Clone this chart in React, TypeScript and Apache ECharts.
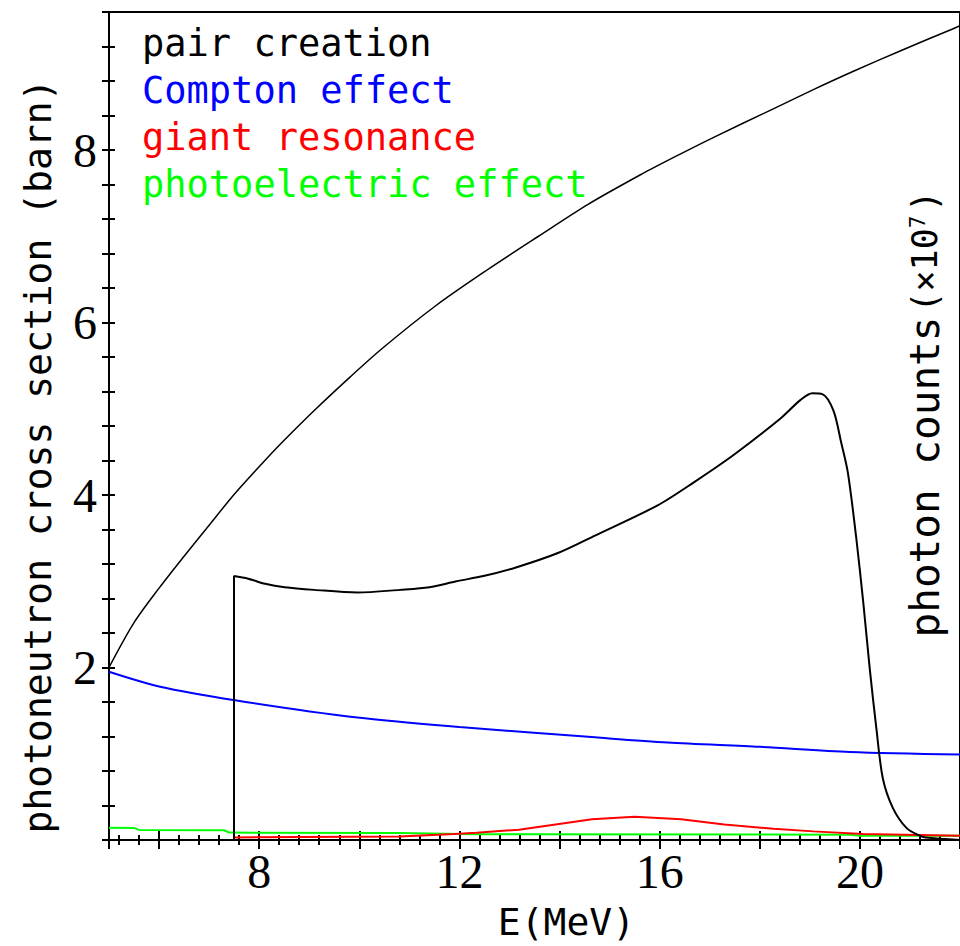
import React, { useEffect, useRef } from 'react';
import * as echarts from 'echarts';

const X_MIN = 5;
const X_MAX = 22;
const Y_MIN = 0;
const Y_MAX = 9.6;

const xLabelValues = [8, 12, 16, 20];
const yLabelValues = [2, 4, 6, 8];
const xMajorTicks = [6, 8, 10, 12, 14, 16, 18, 20, 22];

const legendNames = ['pair creation', 'Compton effect', 'giant resonance', 'photoelectric effect'];
const legendColors = ['#000000', '#0000ff', '#ff0000', '#00ff00'];

// E (MeV), cross section (barn)
const pairCreation: [number, number][] = [
  [5.0, 2.0], [5.5, 2.52], [6.0, 2.92], [6.5, 3.29], [7.0, 3.65],
  [7.52, 4.02], [8.05, 4.36], [8.44, 4.6], [9.1, 4.98], [9.82, 5.37], [10.48, 5.71],
  [11.54, 6.2], [12.53, 6.6], [13.58, 7.0], [14.57, 7.37], [15.64, 7.72], [16.3, 7.92],
  [17.09, 8.15], [18.28, 8.48], [19.07, 8.7], [19.86, 8.91], [20.85, 9.16], [21.84, 9.4], [22, 9.44],
];

const compton: [number, number][] = [
  [5.0, 1.95], [6.0, 1.78], [7.52, 1.62], [9.96, 1.42], [12.0, 1.31], [14.71, 1.19],
  [16.16, 1.13], [18.0, 1.08], [19.8, 1.02], [22.0, 0.99],
];

const giantResonance: [number, number][] = [
  [7.49, 0.03], [10.8, 0.04], [11.9, 0.07], [12.34, 0.085], [13.19, 0.12], [13.92, 0.18],
  [14.65, 0.24], [15.5, 0.27], [16.43, 0.24], [17.29, 0.18], [18.28, 0.13], [19.07, 0.1],
  [20.06, 0.07], [22.0, 0.05],
];

const photoelectric: [number, number][] = [
  [5.0, 0.143], [5.5, 0.14], [5.6, 0.117], [7.3, 0.113], [7.4, 0.086], [10.8, 0.08],
  [12.3, 0.068], [19.8, 0.062], [20.0, 0.05], [22.0, 0.048],
];

// photon counts spectrum (drawn on the left scale); it rises from 0 at its threshold edge
const photonEdgeE = 7.49;
const photonCounts: [number, number][] = [
  [7.49, 3.06], [7.78, 3.03], [8.12, 2.97], [8.51, 2.93], [9.1, 2.9], [9.96, 2.87],
  [10.81, 2.9], [11.4, 2.93], [11.94, 3.0], [12.48, 3.06], [13.13, 3.16], [13.98, 3.33],
  [14.71, 3.53], [15.96, 3.88], [16.69, 4.15], [17.49, 4.47], [18.42, 4.89], [18.81, 5.1],
  [19.05, 5.18], [19.25, 5.17], [19.47, 4.98], [19.63, 4.6], [19.76, 4.26], [19.93, 3.49],
  [20.07, 2.74], [20.2, 1.97], [20.33, 1.29], [20.46, 0.71], [20.66, 0.37], [20.93, 0.14],
  [21.19, 0.05], [21.31, 0.03], [22.0, 0.0],
];

const xMinorTicks: number[] = [];
for (let k = 13; k <= 55; k++) {
  if (k % 5 !== 0) xMinorTicks.push(Math.round(k * 4) / 10);
}
const yTicks: number[] = [];
for (let k = 0; k <= 24; k++) yTicks.push(Math.round(k * 4) / 10);

const MONO = '"DejaVu Sans Mono", monospace';
const SERIF = '"Liberation Serif", "DejaVu Serif", serif';

export default function App() {
  const ref = useRef<HTMLDivElement>(null);
  useEffect(() => {
    if (!ref.current) return;
    const chart = echarts.init(ref.current, null, { renderer: 'svg' });
    const tickLine = { color: '#000', width: 2 };
    const baseX = { type: 'value', min: X_MIN, max: X_MAX, position: 'bottom', gridIndex: 0, splitLine: { show: false } };
    const baseY = { type: 'value', min: Y_MIN, max: Y_MAX, position: 'left', gridIndex: 0, splitLine: { show: false } };
    const line = (name: string, data: [number, number][], color: string, width: number, z: number, smooth: number | boolean = false) => ({
      name, type: 'line', data, showSymbol: false, symbol: 'none', xAxisIndex: 0, yAxisIndex: 0,
      smooth, lineStyle: { color, width }, itemStyle: { color }, z, clip: true,
    });
    const photonSeries: any = line('photon counts', photonCounts, '#000000', 2, 5, 0.3);
    photonSeries.markLine = {
      silent: true, symbol: 'none', animation: false, label: { show: false },
      lineStyle: { color: '#000', width: 2, type: 'solid' },
      data: [[{ coord: [photonEdgeE, 0] }, { coord: photonCounts[0] }]],
    };
    chart.setOption({
      animation: false,
      backgroundColor: '#fff',
      grid: { left: 109, top: 12, width: 858.5, height: 840, show: true, borderColor: '#000', borderWidth: 2, backgroundColor: 'transparent' },
      legend: {
        orient: 'vertical', left: 132, top: 20, itemWidth: 0, itemHeight: 0, itemGap: 10, icon: 'rect',
        selectedMode: false,
        textStyle: { fontFamily: MONO, fontSize: 37, lineHeight: 37 },
        data: legendNames.map((n, i) => ({ name: n, textStyle: { color: legendColors[i] } })),
      },
      xAxis: [
        {
          ...baseX,
          name: 'E(MeV)', nameLocation: 'middle', nameGap: 63,
          nameTextStyle: { fontFamily: MONO, fontSize: 38, color: '#000', padding: [0, 0, 0, 64] },
          axisLine: { show: true, onZero: false, lineStyle: { color: '#000', width: 2 } },
          axisTick: { show: true, inside: false, length: 9, customValues: [X_MIN, ...xMajorTicks], lineStyle: tickLine },
          axisLabel: { show: true, customValues: xLabelValues, margin: 7, fontFamily: SERIF, fontSize: 48, color: '#000' },
        },
        { ...baseX, axisLine: { show: false, onZero: false }, axisTick: { show: true, inside: true, length: 9, customValues: xMajorTicks, lineStyle: tickLine }, axisLabel: { show: false } },
        { ...baseX, axisLine: { show: false, onZero: false }, axisTick: { show: true, inside: false, length: 5, customValues: xMinorTicks, lineStyle: tickLine }, axisLabel: { show: false } },
        { ...baseX, axisLine: { show: false, onZero: false }, axisTick: { show: true, inside: true, length: 5, customValues: xMinorTicks, lineStyle: tickLine }, axisLabel: { show: false } },
      ],
      yAxis: [
        {
          ...baseY,
          name: 'photoneutron cross section (barn)', nameLocation: 'middle', nameGap: 52, nameRotate: 90,
          nameTextStyle: { fontFamily: MONO, fontSize: 38, color: '#000', padding: [0, 60, 0, 0] },
          axisLine: { show: true, onZero: false, lineStyle: { color: '#000', width: 2 } },
          axisTick: { show: true, inside: false, length: 7, customValues: yTicks, lineStyle: tickLine },
          axisLabel: { show: true, customValues: yLabelValues, margin: 12, fontFamily: SERIF, fontSize: 48, color: '#000' },
        },
        { ...baseY, axisLine: { show: false, onZero: false }, axisTick: { show: true, inside: true, length: 6, customValues: yTicks, lineStyle: tickLine }, axisLabel: { show: false } },
      ],
      graphic: [
        {
          type: 'text', x: 925, y: 414, rotation: Math.PI / 2, z: 10,
          style: {
            text: '{a|photon counts}{b|(×10}{c|7}{b|)}',
            align: 'center', verticalAlign: 'middle', fill: '#000',
            rich: {
              a: { fontFamily: MONO, fontSize: 41, fill: '#000' },
              b: { fontFamily: MONO, fontSize: 35, fill: '#000', padding: [0, 0, 0, 4] },
              c: { fontFamily: MONO, fontSize: 21, fill: '#000', padding: [0, 0, 15, 0] },
            },
          },
        },
      ],
      series: [
        line('photoelectric effect', photoelectric, '#00ff00', 2, 2),
        line('giant resonance', giantResonance, '#ff0000', 2, 3),
        line('Compton effect', compton, '#0000ff', 2, 4, 0.3),
        photonSeries,
        line('pair creation', pairCreation, '#000000', 1.5, 6, 0.3),
      ],
    });
    return () => chart.dispose();
  }, []);
  return <div ref={ref} style={{ position: 'absolute', left: 0, top: 0, width: 960, height: 946 }} />;
}
